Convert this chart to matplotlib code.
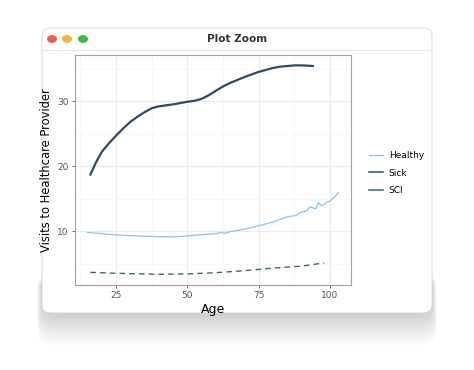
import numpy as np
import matplotlib.pyplot as plt
from matplotlib.patches import FancyBboxPatch, Circle
from matplotlib.lines import Line2D

# data
sick_age = [16, 18, 20, 22.5, 25, 27.5, 30, 32.5, 35, 37.5, 40, 42.5, 45, 47.5, 50,
            52.5, 55, 57.5, 60, 62.5, 65, 67.5, 70, 72.5, 75, 77.5, 80, 82.5, 85,
            87.5, 90, 92.5, 94]
sick_visits = [18.7, 20.6, 22.2, 23.5, 24.7, 25.8, 26.8, 27.6, 28.3, 28.9, 29.2,
               29.35, 29.5, 29.7, 29.9, 30.05, 30.35, 30.9, 31.6, 32.25, 32.8, 33.25,
               33.7, 34.1, 34.5, 34.8, 35.1, 35.3, 35.4, 35.5, 35.5, 35.45, 35.4]

healthy_age = [15, 20, 25, 30, 35, 40, 45, 50, 55, 60, 62, 63, 65, 70, 75, 80, 85,
               88, 90, 91, 92, 93, 94, 95, 96, 97, 98, 99, 100, 101, 102, 103]
healthy_visits = [9.8, 9.6, 9.4, 9.3, 9.2, 9.15, 9.1, 9.25, 9.45, 9.6, 9.8, 9.65,
                  9.9, 10.3, 10.8, 11.4, 12.2, 12.4, 12.9, 13.0, 13.2, 13.7, 13.6,
                  13.4, 14.4, 13.9, 14.1, 14.5, 14.6, 15.0, 15.4, 15.9]

sci_age = [16, 25, 30, 40, 50, 60, 70, 80, 90, 98]
sci_visits = [3.65, 3.5, 3.45, 3.35, 3.4, 3.6, 3.9, 4.3, 4.6, 5.1]

sick_col = '#2f4a62'
healthy_col = '#8cc3ea'
sci_col = '#3d6674'

fig = plt.figure(figsize=(4.74, 3.70), dpi=100)
fig.patch.set_facecolor('white')

W, H = 474, 370
# soft window shadow, mostly below the window
for i in range(16):
    g = 32 - i * 2
    fig.patches.append(FancyBboxPatch(((42 - g * 0.15) / W, (57 - g) / H),
                                      (390 + g * 0.3) / W, (g + 40) / H,
                                      boxstyle='round,pad=0,rounding_size=0.04',
                                      transform=fig.transFigure, fc='black', ec='none',
                                      alpha=0.013, zorder=0))
fig.patches.append(FancyBboxPatch((42 / W, 57 / H), 390 / W, 285 / H,
                                  boxstyle='round,pad=0,rounding_size=0.02',
                                  transform=fig.transFigure, fc='white', ec='#d4d4d4',
                                  lw=0.6, zorder=1))
fig.lines.append(Line2D([42 / W, 432 / W], [1 - 50 / H, 1 - 50 / H],
                        transform=fig.transFigure, color='#e6e6e6', lw=0.8, zorder=2))
for cx, c in [(52, '#ee5a52'), (67, '#f4b633'), (83, '#2fc23f')]:
    fig.patches.append(Circle((cx / W, 1 - 39 / H), 5 / W, transform=fig.transFigure,
                              fc=c, ec='none', zorder=3))
fig.text(237 / W, 1 - 39 / H, 'Plot Zoom', ha='center', va='center',
         fontsize=7.5, fontweight='bold', color='#333333')

ax = fig.add_axes([75 / W, 1 - 285 / H, 276 / W, 230 / H])
ax.set_zorder(5)
ax.plot(healthy_age, healthy_visits, color=healthy_col, lw=0.9, label='Healthy')
ax.plot(sick_age, sick_visits, color=sick_col, lw=1.6, label='Sick')
ax.plot(sci_age, sci_visits, color=sci_col, lw=1.0, ls=(0, (4, 3)), label='SCI')

ax.set_xlim(10.6, 107.4)
ax.set_ylim(1.7, 37.1)
ax.set_xticks([25, 50, 75, 100])
ax.set_yticks([10, 20, 30])
ax.set_xticks([12.5, 37.5, 62.5, 87.5], minor=True)
ax.set_yticks([5, 15, 25, 35], minor=True)
ax.grid(which='major', color='#ebebeb', lw=0.8)
ax.grid(which='minor', color='#f4f4f4', lw=0.5)
ax.set_axisbelow(True)
for s in ax.spines.values():
    s.set_color('#a0a0a0')
    s.set_linewidth(0.8)
ax.tick_params(which='major', length=2.5, width=0.6, color='#555555',
               labelsize=6.5, labelcolor='#555555', pad=2)
ax.tick_params(which='minor', length=0)
ax.set_xlabel('Age', fontsize=9, labelpad=2)
ax.set_ylabel('Visits to Healthcare Provider', fontsize=8.3, labelpad=3)

handles = [Line2D([], [], color=healthy_col, lw=0.9),
           Line2D([], [], color=sick_col, lw=1.1),
           Line2D([], [], color=sci_col, lw=1.1)]
fig.legend(handles, ['Healthy', 'Sick', 'SCI'], loc='center left',
           bbox_to_anchor=(369 / W, 1 - 173 / H), frameon=False, fontsize=6.5,
           handlelength=1.6, handletextpad=0.6, labelspacing=0.95,
           borderpad=0, borderaxespad=0)

fig.savefig('out.png', dpi=100)
